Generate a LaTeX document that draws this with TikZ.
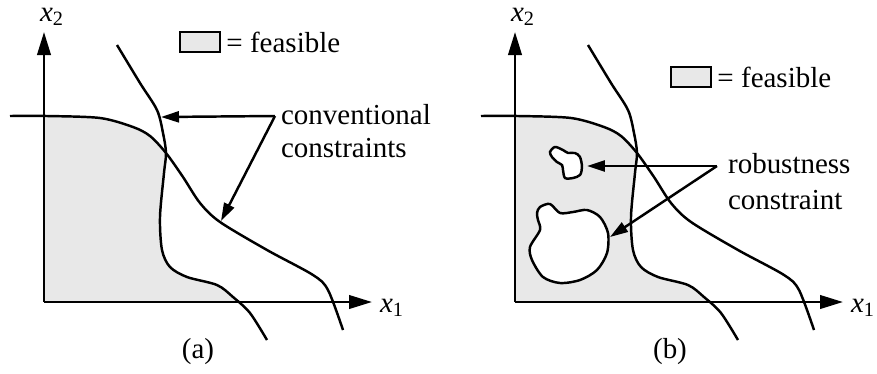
\documentclass[tikz,border=0pt]{standalone}
\usepackage{fontspec}
\setmainfont{Liberation Serif}
\usetikzlibrary{arrows.meta,positioning}
\definecolor{feasgray}{RGB}{232,232,232}

\tikzset{
  curve/.style={line width=1.4pt},
  axis/.style={line width=1.4pt,-{Triangle[length=0.46cm,width=0.27cm]}},
  callout/.style={line width=1.4pt,-{Triangle[length=0.36cm,width=0.22cm]}},
  lbl/.style={font=\fontsize{16.5}{19}\selectfont,inner sep=1pt,align=left},
  legbox/.style={draw,line width=1pt,fill=feasgray,minimum width=0.8cm,minimum height=0.4cm,inner sep=0pt}
}

% shared part of both panels: feasible region, the two boundaries, axes
\newcommand{\feaspanel}{%
  % ---- feasible region ----
  \begin{scope}
    \clip plot[smooth] coordinates {(10,116) (47,116) (100,118) (133,127) (150,136) (166,153) (183,177) (200,203) (220,222) (267,250) (313,275) (328,290) (343,330)} -- (343,400) -- (10,400) -- cycle;
    \clip plot[smooth] coordinates {(117,45) (140,83) (157,110) (163,133) (166,153) (164,173) (160,217) (162,250) (170,267) (187,277) (217,285) (233,297) (250,313) (267,340)} -- (0,340) -- (0,45) -- cycle;
    \fill[feasgray] (44,0) rectangle (400,302);
  \end{scope}
  % ---- constraint boundaries ----
  \draw[curve] plot[smooth] coordinates {(10,116) (47,116) (100,118) (133,127) (150,136) (166,153) (183,177) (200,203) (220,222) (267,250) (313,275) (328,290) (343,330)};
  \draw[curve] plot[smooth] coordinates {(117,45) (140,83) (157,110) (163,133) (166,153) (164,173) (160,217) (162,250) (170,267) (187,277) (217,285) (233,297) (250,313) (267,340)};
  % ---- axes ----
  \coordinate (o) at (44,302);
  \coordinate (xend) at (372,302);
  \coordinate (yend) at (44,32);
  \draw[axis] (o) -- (xend);
  \draw[axis] (o) -- (yend);
  \node[lbl] (xlab) at (392,308) {\textit{x}\textsubscript{1}};
  \node[lbl] (ylab) at (52,17) {\textit{x}\textsubscript{2}};
}

\begin{document}
\begin{tikzpicture}[x={(0.02cm,0)},y={(0,-0.02cm)}]
\useasboundingbox (0,0) rectangle (877,373);
% ---- panel (a) ----
\begin{scope}[name prefix=a-]
  \feaspanel
  \node[legbox] (box) at (200,42) {};
  \node[lbl,right=2pt of box] (key) {= feasible};
  \coordinate (c) at (275,116);
  \node[lbl,anchor=west] (conv) at (279,131) {conventional\\constraints};
  \coordinate (t1) at (161,117);
  \coordinate (t2) at (221,221);
  \draw[callout] (c) -- (t1);
  \draw[callout] (c) -- (t2);
  \node[lbl] (cap) at (198,352) {(a)};
\end{scope}
% ---- panel (b) ----
\begin{scope}[shift={(471,0)},name prefix=b-]
  \feaspanel
  % holes cut by the robustness constraint
  \filldraw[curve,fill=white] plot[smooth cycle] coordinates {(79,152) (84,147) (92,150) (97,153) (104,153) (109,157) (111,167) (109,175) (102,178) (94,178) (92,170) (91,165) (86,162) (81,157)};
  \filldraw[curve,fill=white] plot[smooth cycle] coordinates {(69,207) (79,204) (89,213) (102,212) (116,210) (129,217) (137,233) (136,253) (126,270) (109,280) (89,283) (72,277) (61,260) (59,247) (69,230) (67,220) (66,213)};
  \node[legbox] (box) at (220,77) {};
  \node[lbl,right=2pt of box] (key) {= feasible};
  \coordinate (c) at (246,166);
  \node[lbl,anchor=west,font=\fontsize{16.5}{20.5}\selectfont] (rob) at (255,182) {robustness\\constraint};
  \coordinate (h1) at (116,166);
  \coordinate (h2) at (139,237);
  \draw[callout] (c) -- (h1);
  \draw[callout] (c) -- (h2);
  \node[lbl] (cap) at (199,352) {(b)};
\end{scope}
\end{tikzpicture}
\end{document}
